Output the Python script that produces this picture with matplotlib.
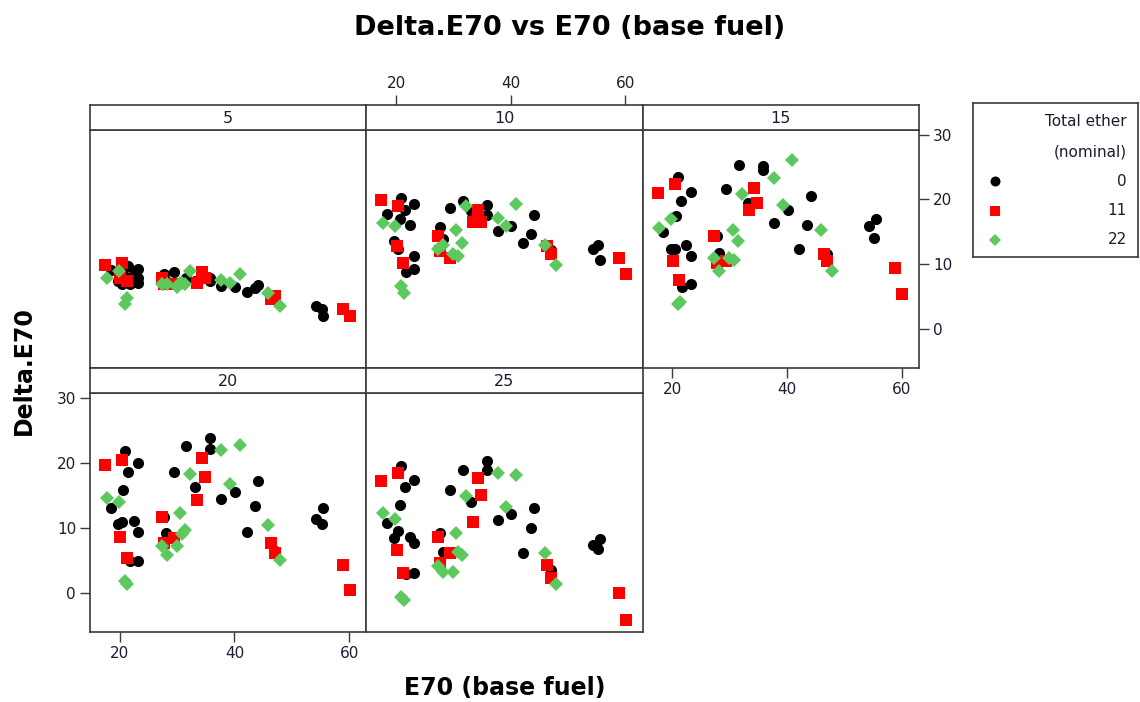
import matplotlib.pyplot as plt

# E70 of the base fuel for each blend, one list per nominal total-ether level
e70_ether0 = [20.9, 23.2, 21.5, 20.6, 18.4, 19.7, 20.4, 22.4, 23.2, 21.7, 23.2, 27.7, 28.1, 29.4,
              31.6, 33.1, 35.8, 35.8, 37.7, 40.1, 44.1, 43.5, 42.1, 47.0, 55.5, 54.3, 55.2]
e70_ether11 = [17.4, 20.4, 20.1, 21.2, 27.3, 27.7, 29.4, 34.3, 34.8, 33.4, 46.4, 47.0, 58.9, 60.1]
e70_ether22 = [17.7, 19.8, 20.9, 21.3, 27.3, 28.2, 29.9, 30.5, 31.4, 30.8, 32.2, 37.7, 40.9, 39.2,
               45.9, 47.9]

ethanol_levels = [5, 10, 15, 20, 25]
ether_levels = ['0', '11', '22']

# Delta.E70 at each ethanol level (same order as the E70 lists)
delta_5_ether0 = [9.9, 9.2, 9.7, 8.4, 9.1, 7.4, 6.9, 8.4, 7.1, 6.9, 7.9, 8.4, 7.4, 8.7,
                  7.9, 7.4, 7.9, 7.4, 6.6, 6.4, 6.8, 6.3, 5.7, 4.6, 2.0, 3.5, 3.0]
delta_10_ether0 = [20.2, 19.3, 18.4, 16.9, 17.8, 13.6, 12.3, 16.1, 11.2, 8.7, 9.2, 15.7, 13.9, 18.7,
                   19.8, 18.2, 19.1, 17.6, 15.1, 15.8, 17.6, 14.7, 13.3, 12.2, 10.7, 12.4, 12.9]
delta_15_ether0 = [23.4, 21.2, 19.7, 17.4, 15.0, 12.3, 12.4, 13.0, 11.2, 6.4, 6.9, 14.3, 11.7, 21.6,
                   25.3, 19.4, 25.1, 24.6, 16.4, 18.3, 20.5, 16.1, 12.3, 11.5, 16.9, 15.8, 14.1]
delta_20_ether0 = [21.8, 20.0, 18.6, 15.8, 13.0, 10.5, 10.8, 11.0, 9.4, 4.8, 4.8, 11.7, 9.2, 18.6,
                   22.5, 16.3, 23.8, 22.1, 14.4, 15.5, 17.1, 13.3, 9.4, 6.4, 13.0, 11.4, 10.6]
delta_25_ether0 = [19.5, 17.3, 16.3, 13.5, 10.7, 8.4, 9.5, 8.6, 7.6, 2.8, 3.0, 9.2, 6.3, 15.8,
                   18.9, 14.0, 20.3, 18.9, 11.2, 12.1, 13.0, 9.9, 6.1, 3.5, 8.2, 7.4, 6.7]

delta_5_ether11 = [9.8, 10.1, 7.9, 7.4, 7.9, 6.9, 6.9, 8.7, 7.9, 7.1, 4.6, 5.1, 3.0, 2.0]
delta_10_ether11 = [19.9, 18.9, 12.8, 10.2, 14.3, 12.0, 11.0, 18.4, 16.5, 16.5, 12.8, 11.5, 11.0, 8.4]
delta_15_ether11 = [21.0, 22.4, 10.5, 7.6, 14.3, 10.2, 10.5, 21.7, 19.4, 18.4, 11.5, 10.5, 9.4, 5.3]
delta_20_ether11 = [19.6, 20.4, 8.6, 5.3, 11.7, 7.7, 8.4, 20.7, 17.8, 14.3, 7.6, 6.1, 4.3, 0.4]
delta_25_ether11 = [17.1, 18.4, 6.6, 3.0, 8.6, 4.6, 6.1, 17.6, 15.0, 10.9, 4.3, 2.3, -0.1, -4.2]

delta_5_ether22 = [7.9, 9.0, 3.9, 4.8, 6.9, 6.9, 6.4, 7.1, 6.9, 7.1, 8.9, 7.6, 8.5, 7.1, 5.6, 3.5]
delta_10_ether22 = [16.4, 15.8, 6.6, 5.6, 12.3, 13.0, 11.5, 15.3, 13.3, 11.2, 18.9, 17.1, 19.2, 15.8,
                    13.0, 9.9]
delta_15_ether22 = [15.6, 16.9, 3.8, 4.1, 11.0, 8.9, 11.0, 15.2, 13.5, 10.7, 20.8, 23.3, 26.1, 19.1,
                    15.3, 8.9]
delta_20_ether22 = [14.5, 14.0, 1.8, 1.4, 7.1, 5.8, 7.1, 12.2, 9.6, 9.0, 18.2, 21.9, 22.7, 16.7,
                    10.4, 5.0]
delta_25_ether22 = [12.3, 11.4, -0.6, -1.1, 4.1, 3.2, 3.2, 9.1, 5.8, 6.3, 14.8, 18.4, 18.1, 13.1,
                    6.1, 1.4]

x_ticks = [20, 40, 60]
y_ticks = [0, 10, 20, 30]

delta_by_panel = {
    5: [delta_5_ether0, delta_5_ether11, delta_5_ether22],
    10: [delta_10_ether0, delta_10_ether11, delta_10_ether22],
    15: [delta_15_ether0, delta_15_ether11, delta_15_ether22],
    20: [delta_20_ether0, delta_20_ether11, delta_20_ether22],
    25: [delta_25_ether0, delta_25_ether11, delta_25_ether22],
}
e70_by_ether = [e70_ether0, e70_ether11, e70_ether22]

markers = ['o', 's', 'D']
sizes = [8, 8, 6.8]
colors = ['black', '#ff0000', '#5dc85d']

plt.rcParams['font.family'] = 'DejaVu Sans'
W, H = 1140, 702
fig = plt.figure(figsize=(W / 100, H / 100), dpi=100)


def box(left, top, width, height):
    return [left / W, 1 - (top + height) / H, width / W, height / H]


frame_col = '#3a3a3a'
tick_col = '#1c1c30'
pw = (919 - 90) / 3.0
row_top = [130, 393]
row_h = [238, 239]
strip_h = 25
xlim = (14.8, 63.0)
ylim = (-6.05, 30.7)

for i, eth in enumerate(ethanol_levels):
    col, row = i % 3, i // 3
    left = 90 + col * pw
    top = row_top[row]
    ax = fig.add_axes(box(left, top, pw, row_h[row]))
    for k in range(3):
        ax.plot(e70_by_ether[k], delta_by_panel[eth][k], linestyle='none',
                marker=markers[k], markersize=sizes[k], color=colors[k],
                markeredgewidth=0)
    ax.set_xlim(*xlim)
    ax.set_ylim(*ylim)
    ax.set_xticks(x_ticks)
    ax.set_yticks(y_ticks)
    ax.tick_params(left=False, bottom=False, labelleft=False, labelbottom=False,
                   direction='out', length=7, width=1, color=frame_col,
                   labelsize=11, labelcolor=tick_col, pad=3)
    for s in ax.spines.values():
        s.set_color(frame_col)
        s.set_linewidth(1.2)

    if eth == 15:
        ax.tick_params(axis='y', right=True, labelright=True)
        ax.tick_params(axis='x', bottom=True, labelbottom=True)
    if eth == 20:
        ax.tick_params(axis='y', left=True, labelleft=True)
        ax.tick_params(axis='x', bottom=True, labelbottom=True)

    # strip with the ethanol level above each panel
    st = fig.add_axes(box(left, top - strip_h, pw, strip_h))
    st.set_xlim(*xlim)
    st.set_ylim(0, 1)
    st.set_yticks([])
    st.set_xticks(x_ticks)
    st.tick_params(axis='x', bottom=False, labelbottom=False, top=False, labeltop=False,
                   direction='out', length=7, width=1, color=frame_col,
                   labelsize=11, labelcolor=tick_col, pad=3)
    if eth == 10:
        st.tick_params(axis='x', top=True, labeltop=True)
    for s in st.spines.values():
        s.set_color(frame_col)
        s.set_linewidth(1.2)
    st.text(0.5, 0.45, str(eth), transform=st.transAxes, ha='center', va='center',
            fontsize=11.5, color=tick_col)

# legend panel
lg = fig.add_axes(box(973, 103, 165, 154))
lg.set_xlim(0, 165)
lg.set_ylim(154, 0)
lg.set_xticks([])
lg.set_yticks([])
for s in lg.spines.values():
    s.set_color(frame_col)
    s.set_linewidth(1.2)
lg.text(154, 19, 'Total ether', ha='right', va='center', fontsize=11, color=tick_col)
lg.text(154, 49, '(nominal)', ha='right', va='center', fontsize=11, color=tick_col)
for k, lab in enumerate(ether_levels):
    yk = 78 + k * 29.5
    lg.plot([22], [yk], marker=markers[k], markersize=sizes[k] * 0.9, color=colors[k],
            markeredgewidth=0, linestyle='none')
    lg.text(154, yk, lab, ha='right', va='center', fontsize=11, color=tick_col)

fig.text(0.5, 1 - 28 / H, 'Delta.E70 vs E70 (base fuel)', ha='center', va='center',
         fontsize=19.5, fontweight='bold', color='black')
fig.text(505 / W, 1 - 688 / H, 'E70 (base fuel)', ha='center', va='center',
         fontsize=17, fontweight='bold', color='black')
fig.text(24 / W, 1 - 371 / H, 'Delta.E70', ha='center', va='center', rotation=90,
         fontsize=17, fontweight='bold', color='black')

fig.savefig('out.png', dpi=100)
